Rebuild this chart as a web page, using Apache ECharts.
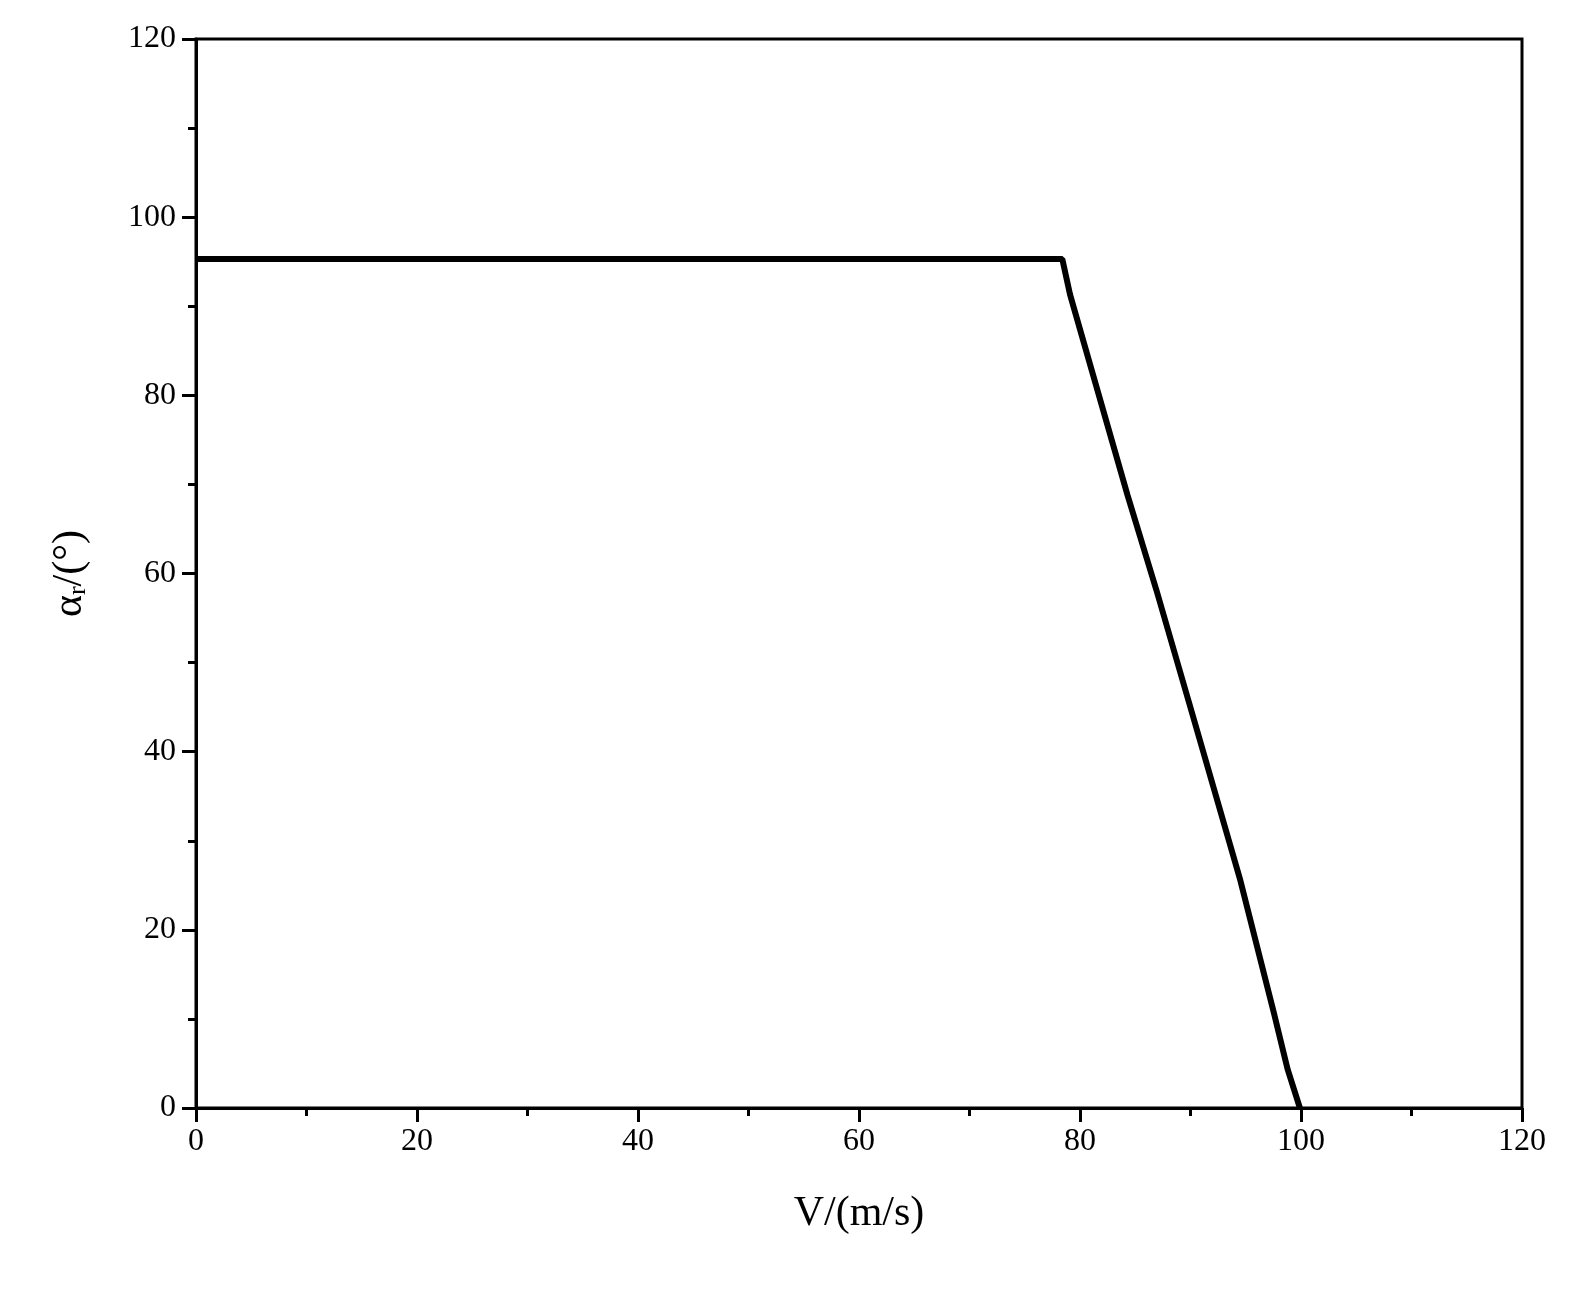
<!DOCTYPE html><html><head><meta charset="utf-8"><script src="https://cdn.jsdelivr.net/npm/echarts@6/dist/echarts.min.js"></script>
<style>html,body{margin:0;background:#fff}#c{width:1571px;height:1303px}</style></head><body><div id="c"></div><script>
const xVals=[0,78.4,79.1,84.3,86.9,89.8,94.5,97.6,98.8,99.9];
const yVals=[95.3,95.3,91.3,68.8,58.2,45.8,25.6,10.4,4.3,0];
const xTicks=[0,20,40,60,80,100,120];
const yTicks=[0,20,40,60,80,100,120];
const F='Liberation Serif';
const ch=echarts.init(document.getElementById('c'));
const ax={type:'value',min:0,max:120,interval:20,splitLine:{show:false},
 axisLine:{show:true,onZero:false,lineStyle:{color:'#000',width:3}},
 axisTick:{show:true,inside:false,length:14,lineStyle:{color:'#000',width:3}},
 minorTick:{show:true,splitNumber:2,length:8,lineStyle:{color:'#000',width:3}},
 axisLabel:{color:'#000',fontFamily:F,fontSize:32}};
ch.setOption({animation:false,
grid:{left:196,right:49,top:39,bottom:195,show:true,borderColor:'#000',borderWidth:3},
xAxis:Object.assign({},ax,{name:'V/(m/s)',nameLocation:'middle',nameGap:85,nameTextStyle:{color:'#000',fontFamily:F,fontSize:42},axisLabel:Object.assign({},ax.axisLabel,{margin:18})}),
yAxis:Object.assign({},ax,{name:'{a|α}{s|r}{a|/(°)}',nameLocation:'middle',nameGap:105,nameTextStyle:{rich:{a:{color:'#000',fontFamily:F,fontSize:42},s:{color:'#000',fontFamily:F,fontSize:26,verticalAlign:'bottom',padding:[14,0,0,0]}}},axisLabel:Object.assign({},ax.axisLabel,{margin:20})}),
series:[{type:'line',data:xVals.map((x,i)=>[x,yVals[i]]),showSymbol:false,lineStyle:{color:'#000',width:6},clip:true}]});
</script></body></html>
